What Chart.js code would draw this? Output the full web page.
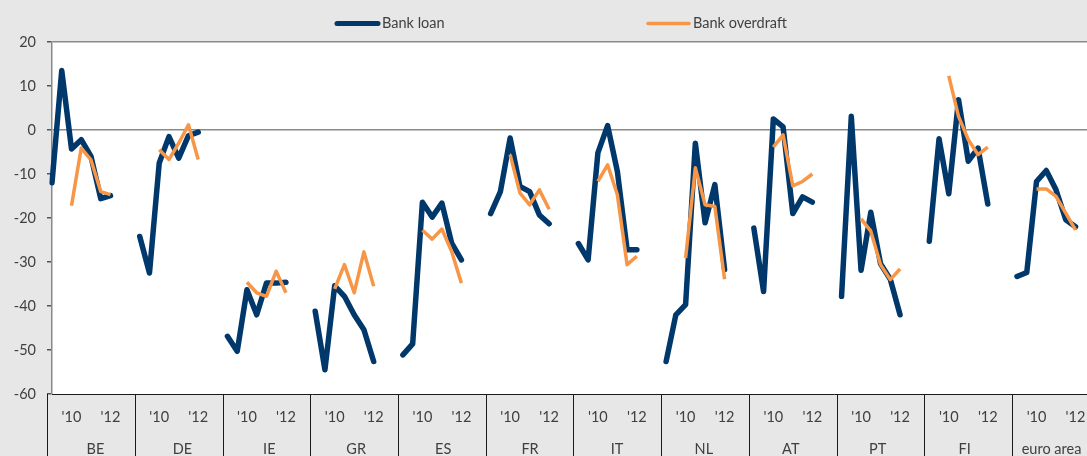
<!DOCTYPE html>
<html>
<head>
<meta charset="utf-8">
<script src="https://cdn.jsdelivr.net/npm/chart.js@4.4.1/dist/chart.umd.min.js"></script>
<style>
  html, body { margin: 0; padding: 0; background: #e7e7e7; overflow: hidden; }
  #wrap { width: 1110px; height: 456px; }
</style>
</head>
<body>
<div id="wrap"><canvas id="c" width="1110" height="456"></canvas></div>
<script>
// ---- data ----
const countries = ['BE', 'DE', 'IE', 'GR', 'ES', 'FR', 'IT', 'NL', 'AT', 'PT', 'FI', 'euro area'];
// tick labels inside each country block (9 slots: 7 half-years + 2 blank)
const yearTicks = ['', '', "'10", '', '', '', "'12", '', ''];

// Bank loan, 7 survey rounds per country
const bankLoan = [
  [-12, 13.5, -4.3, -2.2, -6, -15.6, -14.9],       // BE
  [-24.2, -32.5, -7.5, -1.5, -6.4, -1.3, -0.5],    // DE
  [-46.9, -50.3, -36.3, -42, -34.8, -34.8, -34.6], // IE
  [-41.2, -54.5, -35.4, -37.8, -42, -45.4, -52.6], // GR
  [-51.1, -48.6, -16.4, -19.8, -16.6, -25.7, -29.5], // ES
  [-19, -14, -1.8, -12.8, -14, -19.3, -21.3],      // FR
  [-25.8, -29.5, -5.2, 1, -9.4, -27.2, -27.2],     // IT
  [-52.6, -42, -39.7, -3, -21.1, -12.4, -31.7],    // NL
  [-22.3, -36.7, 2.5, 0.7, -19, -15.2, -16.4],     // AT
  [-37.8, 3.1, -31.9, -18.7, -30.4, -33.9, -42],   // PT
  [-25.3, -2, -14.5, 6.9, -7.1, -4.1, -16.8],      // FI
  [-33.3, -32.4, -11.7, -9.2, -13.6, -20.4, -22]   // euro area
];
// Bank overdraft (starts at the third round)
const bankOverdraft = [
  [null, null, -17.2, -4.1, -6.8, -14, -14.7],
  [null, null, -4.5, -6.7, -3, 1.2, -6.7],
  [null, null, -34.6, -37, -37.8, -32.1, -37],
  [null, null, -36.1, -30.6, -37, -27.7, -35.5],
  [null, null, -22.8, -24.8, -22.5, -27.6, -34.8],
  [null, null, -5.6, -14.3, -17, -13.6, -18],
  [null, null, -11.7, -7.9, -14.7, -30.6, -28.7],
  [null, null, -29.1, -8.6, -17, -17.4, -33.9],
  [null, null, -3.9, -1.1, -12.7, -11.7, -10],
  [null, null, -20.2, -23, -30.6, -34, -31.6],
  [null, null, 12.3, 3.1, -2.2, -5.6, -3.9],
  [null, null, -13.4, -13.4, -15.1, -18.9, -22.7]
];
const yTicks = [20, 10, 0, -10, -20, -30, -40, -50, -60];

// ---- build category slots ----
const SLOTS = yearTicks.length;
const labels = [];
const loanData = [];
const odData = [];
countries.forEach((c, gi) => {
  for (let s = 0; s < SLOTS; s++) {
    labels.push(c + '-' + s);
    loanData.push(s < bankLoan[gi].length ? bankLoan[gi][s] : null);
    odData.push(s < bankOverdraft[gi].length ? bankOverdraft[gi][s] : null);
  }
});

const FONT = 'Lato, "Open Sans", sans-serif';
const TXT = '#404040';

const plotBg = {
  id: 'plotBg',
  beforeDraw(chart) {
    const { ctx, chartArea: a } = chart;
    ctx.save();
    ctx.fillStyle = '#ffffff';
    ctx.fillRect(a.left, a.top, a.right - a.left, a.bottom - a.top);
    ctx.restore();
  },
  afterDraw(chart) {
    const { ctx, chartArea: a } = chart;
    const xs = chart.scales.x;
    ctx.save();
    ctx.strokeStyle = '#1a1a1a';
    ctx.lineWidth = 1;
    // bottom axis line
    ctx.beginPath();
    ctx.moveTo(a.left, Math.round(a.bottom) + 0.5);
    ctx.lineTo(a.right, Math.round(a.bottom) + 0.5);
    ctx.stroke();
    // group separators
    const step = xs.getPixelForValue(1) - xs.getPixelForValue(0);
    for (let g = 0; g <= countries.length; g++) {
      const x = Math.round(xs.getPixelForValue(g * SLOTS) - step / 2) + 0.5;
      ctx.beginPath();
      ctx.moveTo(x, a.bottom);
      ctx.lineTo(x, chart.height);
      ctx.stroke();
    }
    // legend
    const items = [
      { x: 337, text: 'Bank loan', color: '#00386b', w: 5 },
      { x: 648, text: 'Bank overdraft', color: '#f79646', w: 3.5 }
    ];
    ctx.font = '14.5px ' + FONT;
    ctx.textBaseline = 'middle';
    items.forEach(it => {
      ctx.strokeStyle = it.color;
      ctx.lineWidth = it.w;
      ctx.lineCap = 'round';
      ctx.beginPath();
      ctx.moveTo(it.x, 23.5);
      ctx.lineTo(it.x + 41, 23.5);
      ctx.stroke();
      ctx.fillStyle = TXT;
      ctx.fillText(it.text, it.x + 45, 23);
    });
    ctx.restore();
  }
};

new Chart(document.getElementById('c'), {
  type: 'line',
  data: {
    labels: labels,
    datasets: [
      {
        label: 'Bank loan',
        data: loanData,
        borderColor: '#00386b',
        borderWidth: 5.5,
        borderJoinStyle: 'round',
        borderCapStyle: 'round',
        pointRadius: 0,
        tension: 0,
        spanGaps: false,
        order: 2
      },
      {
        label: 'Bank overdraft',
        data: odData,
        borderColor: '#f79646',
        borderWidth: 3.5,
        borderJoinStyle: 'round',
        borderCapStyle: 'butt',
        pointRadius: 0,
        tension: 0,
        spanGaps: false,
        order: 1
      }
    ]
  },
  options: {
    responsive: false,
    animation: false,
    layout: { padding: { top: 42, right: 1, left: 0, bottom: 0 } },
    plugins: {
      legend: { display: false },
      tooltip: { enabled: false }
    },
    scales: {
      y: {
        min: -60,
        max: 20,
        afterBuildTicks(scale) { scale.ticks = yTicks.map(v => ({ value: v })); },
        afterFit(scale) { scale.width = 52; },
        ticks: {
          color: TXT,
          font: { family: FONT, size: 14.5 },
          padding: 11
        },
        grid: {
          color: ctx => (ctx.tick && (ctx.tick.value === 0 || ctx.tick.value === 20)) ? '#8a8a8a' : 'rgba(0,0,0,0)',
          lineWidth: 1.5,
          tickColor: '#555555',
          tickLength: 5
        },
        border: { display: true, color: '#8a8a8a', width: 1.5 }
      },
      x: {
        type: 'category',
        weight: 0,
        afterFit(scale) { scale.height = 36; },
        ticks: {
          autoSkip: false,
          maxRotation: 0,
          minRotation: 0,
          color: TXT,
          font: { family: FONT, size: 14.5 },
          padding: 15,
          callback: (v, i) => yearTicks[i % SLOTS]
        },
        grid: { display: false, drawTicks: false },
        border: { display: false }
      },
      x2: {
        type: 'category',
        position: 'bottom',
        weight: 1,
        labels: countries,
        offset: true,
        afterFit(scale) { scale.height = 26; },
        ticks: {
          autoSkip: false,
          maxRotation: 0,
          minRotation: 0,
          color: TXT,
          font: { family: FONT, size: 14.5 },
          padding: 11
        },
        grid: { display: false, drawTicks: false },
        border: { display: false }
      }
    }
  },
  plugins: [plotBg]
});
</script>
</body>
</html>
